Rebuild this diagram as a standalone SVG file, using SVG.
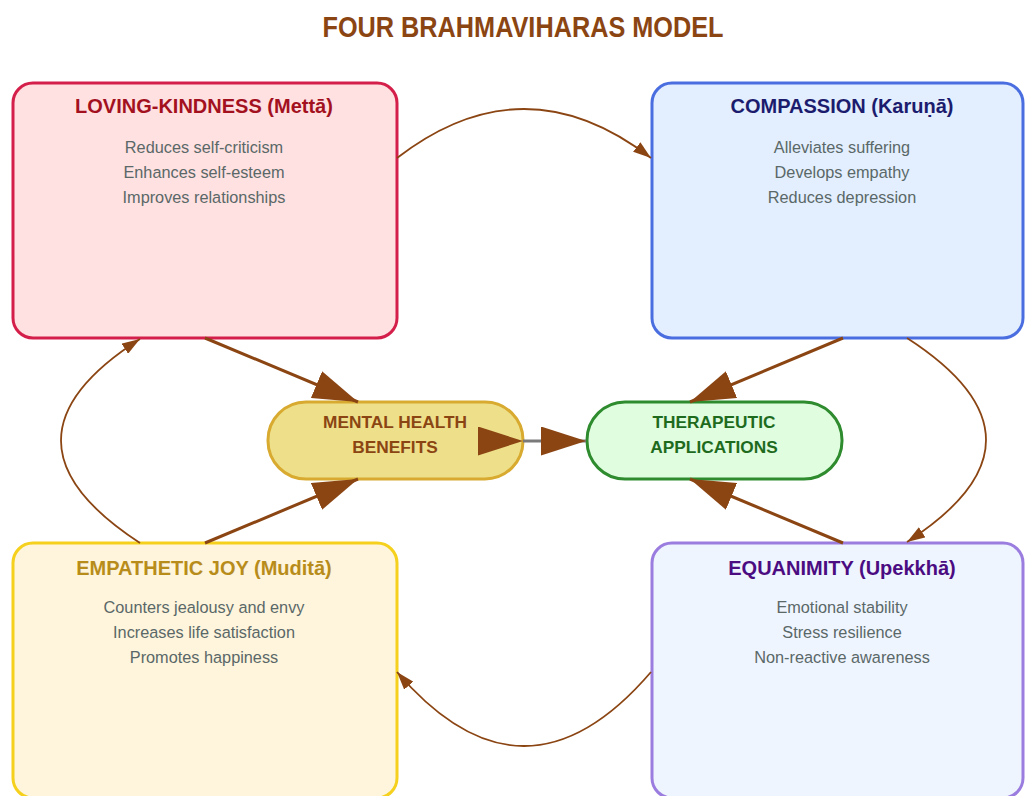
<svg xmlns="http://www.w3.org/2000/svg" width="1025" height="796" viewBox="0 0 1025 796">
  <style>
    .title { font-family: "Liberation Sans", Arial, sans-serif; font-weight: bold; font-size: 29px; fill: #8b4513; text-anchor: middle; }
    .head { font-family: "Liberation Sans", Arial, sans-serif; font-weight: bold; font-size: 20px; text-anchor: middle; }
    .body { font-family: "Liberation Sans", Arial, sans-serif; font-size: 16.3px; fill: #5a6868; text-anchor: middle; }
    .hub { font-family: "Liberation Sans", Arial, sans-serif; font-weight: bold; font-size: 17.3px; text-anchor: middle; }
    .box { stroke-width: 3; }
    .cycle { fill: none; stroke: #8b4513; stroke-width: 1.8; marker-end: url(#small); }
    .feed { fill: none; stroke: #8b4513; stroke-width: 3; marker-end: url(#big); }
  </style>
  <defs>
    <marker id="small" markerUnits="userSpaceOnUse" viewBox="0 0 18 12" markerWidth="18" markerHeight="12" refX="18" refY="6" orient="auto">
      <path d="M0,0 L18,6 L0,12 z" fill="#8b4513"/>
    </marker>
    <marker id="big" markerUnits="userSpaceOnUse" viewBox="0 0 45 29" markerWidth="45" markerHeight="29" refX="45" refY="14.5" orient="auto">
      <path d="M0,0 L45,14.5 L0,29 z" fill="#8b4513"/>
    </marker>
  </defs>

  <rect width="1025" height="796" fill="#ffffff"/>

  <text class="title" x="523" y="37" textLength="401" lengthAdjust="spacingAndGlyphs">FOUR BRAHMAVIHARAS MODEL</text>

  <g id="loving-kindness">
    <rect class="box" x="13" y="83" width="384" height="255" rx="20" fill="#ffe1e1" stroke="#d41f4a"/>
    <text class="head" x="204" y="113" fill="#a3111f">LOVING-KINDNESS (Mettā)</text>
    <text class="body" x="204" y="153">Reduces self-criticism</text>
    <text class="body" x="204" y="178">Enhances self-esteem</text>
    <text class="body" x="204" y="203">Improves relationships</text>
  </g>

  <g id="compassion">
    <rect class="box" x="652" y="83" width="371" height="255" rx="20" fill="#e3effe" stroke="#4a6ee0"/>
    <text class="head" x="842" y="113" fill="#1c1c6e">COMPASSION (Karuṇā)</text>
    <text class="body" x="842" y="153">Alleviates suffering</text>
    <text class="body" x="842" y="178">Develops empathy</text>
    <text class="body" x="842" y="203">Reduces depression</text>
  </g>

  <g id="empathetic-joy">
    <rect class="box" x="13" y="543" width="384" height="255" rx="20" fill="#fef5dc" stroke="#f5d01c"/>
    <text class="head" x="204" y="575" fill="#b88c1a">EMPATHETIC JOY (Muditā)</text>
    <text class="body" x="204" y="613">Counters jealousy and envy</text>
    <text class="body" x="204" y="638">Increases life satisfaction</text>
    <text class="body" x="204" y="663">Promotes happiness</text>
  </g>

  <g id="equanimity">
    <rect class="box" x="652" y="543" width="371" height="255" rx="20" fill="#eff5fe" stroke="#9b7ddf"/>
    <text class="head" x="842" y="575" fill="#4b0c82">EQUANIMITY (Upekkhā)</text>
    <text class="body" x="842" y="613">Emotional stability</text>
    <text class="body" x="842" y="638">Stress resilience</text>
    <text class="body" x="842" y="663">Non-reactive awareness</text>
  </g>

  <g id="mental-health-benefits">
    <rect x="268" y="402" width="255" height="77" rx="38" stroke-width="3" fill="#eee08a" stroke="#d8aa30"/>
    <text class="hub" x="395" y="428" fill="#8b4513">MENTAL HEALTH</text>
    <text class="hub" x="395" y="453" fill="#8b4513">BENEFITS</text>
  </g>

  <g id="therapeutic-applications">
    <rect x="587" y="402" width="255" height="77" rx="38" stroke-width="3" fill="#e0fde0" stroke="#2e8b2e"/>
    <text class="hub" x="714" y="428" fill="#1e6b1e">THERAPEUTIC</text>
    <text class="hub" x="714" y="453" fill="#1e6b1e">APPLICATIONS</text>
  </g>

  <g id="connectors">
    <!-- outer cycle -->
    <path class="cycle" d="M397,158 Q524,60 651,158"/>
    <path class="cycle" d="M907,338 Q1065,440 907,542"/>
    <path class="cycle" d="M651,672 Q524,820 397,672"/>
    <path class="cycle" d="M140,543 Q-18,440 140,339"/>
    <!-- feeds into the hubs -->
    <path class="feed" d="M205,338 L358,402"/>
    <path class="feed" d="M205,543 L358,479"/>
    <path class="feed" d="M843,338 L690,402"/>
    <path class="feed" d="M843,543 L690,479"/>
    <!-- benefits to applications -->
    <path d="M523,441 L586,441" fill="none" stroke="#7a7a7a" stroke-width="3" marker-start="url(#big)" marker-end="url(#big)"/>
  </g>
</svg>
